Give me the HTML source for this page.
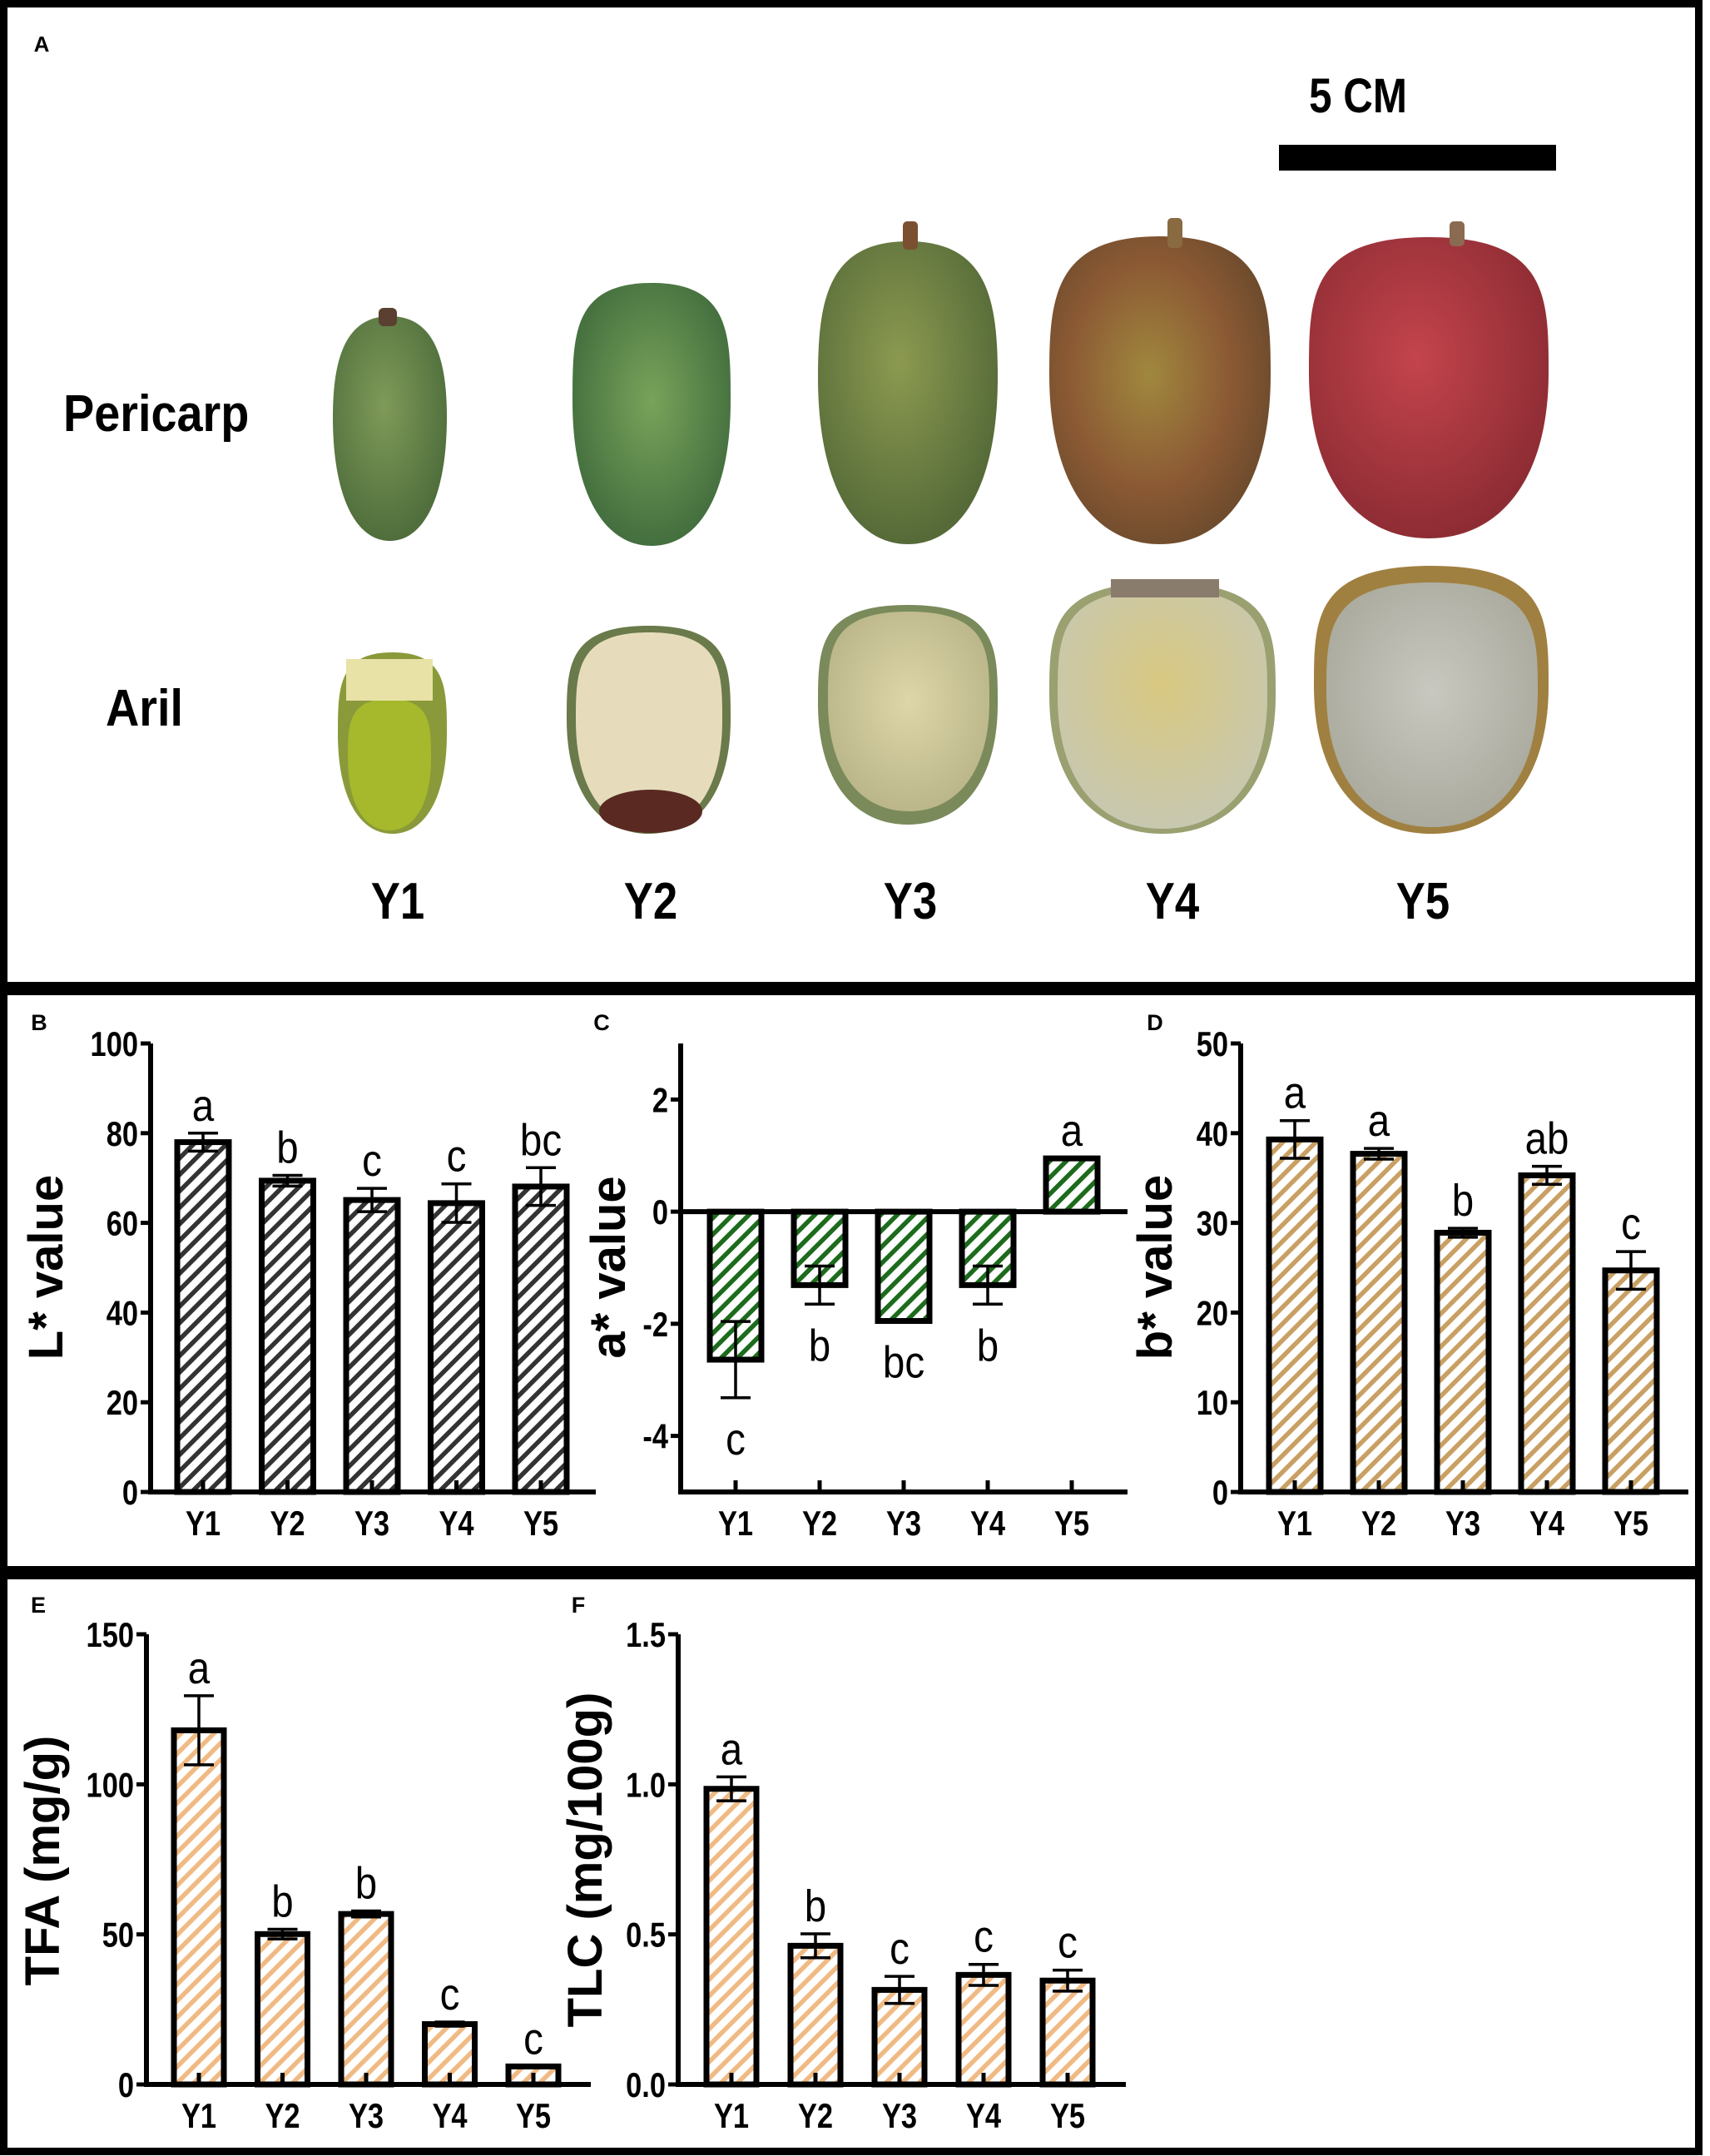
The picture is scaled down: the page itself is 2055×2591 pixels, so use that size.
<!DOCTYPE html>
<html><head><meta charset="utf-8">
<style>
html,body{margin:0;padding:0;background:#fff;}
svg{display:block;}
text{font-family:"Liberation Sans Narrow","Liberation Sans",sans-serif;}
</style></head>
<body>
<svg id="fig" width="2055" height="2591" viewBox="0 0 2055 2591" xmlns="http://www.w3.org/2000/svg">
<defs>
<pattern id="hB" patternUnits="userSpaceOnUse" width="14" height="14" patternTransform="rotate(45)"><rect width="14" height="14" fill="#fff"/><rect x="0" y="0" width="5.5" height="14" fill="#333"/></pattern>
<pattern id="hC" patternUnits="userSpaceOnUse" width="14" height="14" patternTransform="rotate(45)"><rect width="14" height="14" fill="#fff"/><rect x="0" y="0" width="5.5" height="14" fill="#1d6b1d"/></pattern>
<pattern id="hD" patternUnits="userSpaceOnUse" width="14" height="14" patternTransform="rotate(45)"><rect width="14" height="14" fill="#fff"/><rect x="0" y="0" width="5.5" height="14" fill="#c9a064"/></pattern>
<pattern id="hE" patternUnits="userSpaceOnUse" width="14" height="14" patternTransform="rotate(45)"><rect width="14" height="14" fill="#fff"/><rect x="0" y="0" width="5.5" height="14" fill="#f0ba84"/></pattern>
<radialGradient id="g1" cx="45%" cy="40%" r="60%"><stop offset="0" stop-color="#7f9a58"/><stop offset="1" stop-color="#4f6e3c"/></radialGradient>
<radialGradient id="g2" cx="50%" cy="45%" r="60%"><stop offset="0" stop-color="#78a35a"/><stop offset="1" stop-color="#3f6a3c"/></radialGradient>
<radialGradient id="g3" cx="45%" cy="40%" r="60%"><stop offset="0" stop-color="#8c9a50"/><stop offset="1" stop-color="#556a38"/></radialGradient>
<radialGradient id="g4" cx="45%" cy="45%" r="60%"><stop offset="0" stop-color="#a0883e"/><stop offset="0.6" stop-color="#8c5a34"/><stop offset="1" stop-color="#6a4a2c"/></radialGradient>
<radialGradient id="g5" cx="45%" cy="40%" r="60%"><stop offset="0" stop-color="#c4444c"/><stop offset="1" stop-color="#8e2c34"/></radialGradient>
<radialGradient id="a3" cx="50%" cy="45%" r="60%"><stop offset="0" stop-color="#ddd6a8"/><stop offset="1" stop-color="#b8b488"/></radialGradient>
<radialGradient id="a4" cx="50%" cy="40%" r="60%"><stop offset="0" stop-color="#d8c880"/><stop offset="1" stop-color="#c8c8b0"/></radialGradient>
<radialGradient id="a5" cx="50%" cy="45%" r="60%"><stop offset="0" stop-color="#c8c8c0"/><stop offset="1" stop-color="#a8a89c"/></radialGradient>
</defs>
<rect x="0" y="0" width="2055" height="2591" fill="#fff"/>
<g id="photos"></g>
<g id="charts"></g>
<rect x="4.5" y="4.5" width="2037" height="2581" fill="none" stroke="#000" stroke-width="9"/>
<line x1="0" y1="1188" x2="2046" y2="1188" stroke="#000" stroke-width="16"/>
<line x1="0" y1="1890" x2="2046" y2="1890" stroke="#000" stroke-width="16"/>
</svg>
<script>
// ---- data ----
const categories = ["Y1","Y2","Y3","Y4","Y5"];
const lValues = [78.0, 69.4, 65.1, 64.4, 68.1];
const lErrors = [2.0, 1.2, 2.6, 4.3, 4.2];
const lLetters = ["a","b","c","c","bc"];
const aValues = [-2.64, -1.31, -1.95, -1.31, 0.95];
const aErrors = [0.68, 0.34, 0.0, 0.34, 0.0];
const aLetters = ["c","b","bc","b","a"];
const bValues = [39.3, 37.7, 28.9, 35.3, 24.7];
const bErrors = [2.1, 0.6, 0.5, 1.0, 2.1];
const bLetters = ["a","a","b","ab","c"];
const tfaValues = [118, 50.1, 56.8, 20.1, 6.0];
const tfaErrors = [11.5, 1.6, 1.0, 0.7, 0.0];
const tfaLetters = ["a","b","b","c","c"];
const tlcValues = [0.985, 0.462, 0.315, 0.365, 0.346];
const tlcErrors = [0.04, 0.04, 0.045, 0.035, 0.035];
const tlcLetters = ["a","b","c","c","c"];
const lTicks = ["0","20","40","60","80","100"];
const aTicks = ["-4","-2","0","2"];
const bTicks = ["0","10","20","30","40","50"];
const tfaTicks = ["0","50","100","150"];
const tlcTicks = ["0.0","0.5","1.0","1.5"];

const NS = "http://www.w3.org/2000/svg";
function mk(tag, attrs, parent){
  const e = document.createElementNS(NS, tag);
  for (const k in attrs) e.setAttribute(k, attrs[k]);
  parent.appendChild(e);
  return e;
}
function txt(parent, x, y, s, size, weight, anchor, sx, rot){
  const t = mk("text", {"font-size":size, "font-weight":weight, "text-anchor":anchor, fill:"#000",
    transform:"translate("+x+","+y+")"+(rot?" rotate("+rot+")":"")+" scale("+(sx||1)+",1)"}, parent);
  t.textContent = s;
  return t;
}
const charts = document.getElementById("charts");

function chart(cfg){
  const g = mk("g", {}, charts);
  
  
  const y = v => cfg.y0 + (v - cfg.dmin) / (cfg.dmax - cfg.dmin) * (cfg.y1 - cfg.y0);
  const xc = i => cfg.xFirst + i * cfg.step;
  const pl = txt(g, cfg.letterX, cfg.letterY, cfg.letter, 27, "bold", "middle", 1);
  
  
  const at = txt(g, cfg.titleX, cfg.titleY, cfg.title, 58, "bold", "middle", 1, -90);
  
  
  at.setAttribute('font-family', '"Liberation Sans",sans-serif');
  cfg.values.forEach((v, i) => {
    const top = Math.min(y(v), y(0)), h = Math.abs(y(v) - y(0));
    const r = mk("rect", {x: xc(i) - cfg.bw/2, y: top, width: cfg.bw, height: h, fill: "url(#" + cfg.pat + ")", stroke: "#000", "stroke-width": 7}, g);
    
    
    const e = cfg.errors[i];
    if (e > 0) {
      const eg = mk("g", {stroke: "#000", "stroke-width": 3.5}, g);
      
      
      mk("line", {x1: xc(i), x2: xc(i), y1: y(v - e), y2: y(v + e)}, eg);
      mk("line", {x1: xc(i) - 18, x2: xc(i) + 18, y1: y(v + e), y2: y(v + e)}, eg);
      mk("line", {x1: xc(i) - 18, x2: xc(i) + 18, y1: y(v - e), y2: y(v - e)}, eg);
    }
    let ly;
    if (v >= 0) ly = Math.min(y(v + e), y(v)) - 15;
    else ly = Math.max(y(v - e), y(v)) + 68;
    const lt = txt(g, xc(i), ly, cfg.letters[i], 54, "normal", "middle", 0.88);
    
    
    const xt = mk("line", {x1: xc(i), x2: xc(i), y1: cfg.y0, y2: cfg.y0 - 14, stroke: "#000", "stroke-width": 5}, g);
    
    
    const xl = txt(g, xc(i), cfg.y0 + 52, categories[i], 42, "bold", "middle", 0.82);
    
    
  });
  const ya = mk("line", {x1: cfg.ax, x2: cfg.ax, y1: cfg.y1, y2: cfg.y0 + 2.5, stroke: "#000", "stroke-width": 6}, g);
  
  
  const xa = mk("line", {x1: cfg.ax - 3, x2: cfg.axEnd, y1: y(0), y2: y(0), stroke: "#000", "stroke-width": 6}, g);
  
  
  cfg.ticks.forEach(s => {
    const v = parseFloat(s), yy = y(v);
    const t = mk("line", {x1: cfg.ax - 12, x2: cfg.ax, y1: yy, y2: yy, stroke: "#000", "stroke-width": 5}, g);
    
    
    const l = txt(g, cfg.ax - 15, yy + 15, s, 42, "bold", "end", 0.82);
    
    
  });
}

chart({name:"chart-l-value", letter:"B", letterX:47, letterY:1238, title:"L* value", titleX:75, titleY:1523,
  values:lValues, errors:lErrors, letters:lLetters, ticks:lTicks, pat:"hB",
  dmin:0, dmax:100, y0:1793, y1:1254, ax:181, axEnd:716, xFirst:244, step:101.5, bw:62});
chart({name:"chart-a-value", letter:"C", letterX:723, letterY:1238, title:"a* value", titleX:751, titleY:1523,
  values:aValues, errors:aErrors, letters:aLetters, ticks:aTicks, pat:"hC",
  dmin:-5, dmax:3, y0:1793, y1:1254, ax:818, axEnd:1355, xFirst:884, step:101, bw:62});
chart({name:"chart-b-value", letter:"D", letterX:1388, letterY:1238, title:"b* value", titleX:1408, titleY:1523,
  values:bValues, errors:bErrors, letters:bLetters, ticks:bTicks, pat:"hD",
  dmin:0, dmax:50, y0:1793, y1:1254, ax:1491, axEnd:2029, xFirst:1556, step:101, bw:62});
chart({name:"chart-tfa", letter:"E", letterX:46, letterY:1938, title:"TFA (mg/g)", titleX:71, titleY:2236,
  values:tfaValues, errors:tfaErrors, letters:tfaLetters, ticks:tfaTicks, pat:"hE",
  dmin:0, dmax:150, y0:2505, y1:1964, ax:176, axEnd:710, xFirst:239, step:100.5, bw:60});
chart({name:"chart-tlc", letter:"F", letterX:695, letterY:1938, title:"TLC (mg/100g)", titleX:723, titleY:2235,
  values:tlcValues, errors:tlcErrors, letters:tlcLetters, ticks:tlcTicks, pat:"hE",
  dmin:0, dmax:1.5, y0:2505, y1:1964, ax:815, axEnd:1353, xFirst:879, step:101, bw:60});
(function(){
  const l = mk("line", {x1:815, x2:1355, y1:1793, y2:1793, stroke:"#000", "stroke-width":6}, charts);
  
  
})();

// ---- photo panel ----
const P = document.getElementById("photos");
function egg(x0, y0, w, h, fill, name, topW){
  const cx = x0 + w/2, x1 = x0 + w, y1 = y0 + h, tw = (topW||0.45)*w;
  const d = "M"+cx+","+y0+" C"+(cx+tw)+","+y0+" "+x1+","+(y0+0.2*h)+" "+x1+","+(y0+0.45*h)+
    " C"+x1+","+(y0+0.8*h)+" "+(cx+0.3*w)+","+y1+" "+cx+","+y1+
    " C"+(cx-0.3*w)+","+y1+" "+x0+","+(y0+0.8*h)+" "+x0+","+(y0+0.45*h)+
    " C"+x0+","+(y0+0.2*h)+" "+(cx-tw)+","+y0+" "+cx+","+y0+" Z";
  const p = mk("path", {d:d, fill:fill}, P);
  
  
  return p;
}
egg(400,380,137,270,"url(#g1)","pericarp-y1",0.4);
mk("rect",{x:455,y:370,width:22,height:22,fill:"#5a4030",rx:6},P);
egg(688,340,190,316,"url(#g2)","pericarp-y2",0.5);
egg(983,290,216,364,"url(#g3)","pericarp-y3",0.45);
mk("rect",{x:1085,y:266,width:18,height:34,fill:"#7a5030",rx:5},P);
egg(1261,284,266,370,"url(#g4)","pericarp-y4",0.48);
mk("rect",{x:1403,y:262,width:18,height:36,fill:"#8a6a40",rx:5},P);
egg(1573,285,288,362,"url(#g5)","pericarp-y5",0.5);
mk("rect",{x:1742,y:266,width:18,height:30,fill:"#8a6a50",rx:5},P);
egg(406,784,131,218,"#8a9a3a","aril-y1",0.5);
egg(418,840,100,158,"#a6b82c","aril-y1-flesh",0.5);
mk("rect",{x:416,y:792,width:104,height:50,fill:"#e8e2a6"},P);
egg(681,752,197,250,"#6a7a4a","aril-y2",0.5);
egg(692,760,176,236,"#e6dcbc","aril-y2-flesh",0.5);
mk("ellipse",{cx:782,cy:975,rx:62,ry:26,fill:"#5a2a22"},P);
egg(983,727,216,264,"#7a8a5a","aril-y3",0.5);
egg(995,735,194,240,"url(#a3)","aril-y3-flesh",0.5);
egg(1261,700,272,302,"#9aa070","aril-y4",0.5);
egg(1271,708,252,288,"url(#a4)","aril-y4-flesh",0.5);
mk("rect",{x:1335,y:696,width:130,height:22,fill:"#8a7c6c"},P);
egg(1579,680,282,322,"#a08040","aril-y5",0.5);
egg(1594,700,254,294,"url(#a5)","aril-y5-flesh",0.5);

function label(x,y,s,size,anchor,name,sx){
  const t = txt(P,x,y,s,size,"bold",anchor,sx||0.85);
  
  
}
label(50,62,"A",26,"middle","panel-label-a",1);
label(1632,135,"5 CM",58,"middle","scale-bar-label");
(function(){const r=mk("rect",{x:1537,y:174,width:333,height:31,fill:"#000"},P);
})();
label(76,518,"Pericarp",62,"start","pericarp-row-label",0.9);
label(127,872,"Aril",62,"start","aril-row-label",0.9);
const photoX = [478,782,1094,1409,1710];
categories.forEach((c,i)=>label(photoX[i],1104,c,62,"middle","stage-label-"+c.toLowerCase()));
</script>
</body></html>
